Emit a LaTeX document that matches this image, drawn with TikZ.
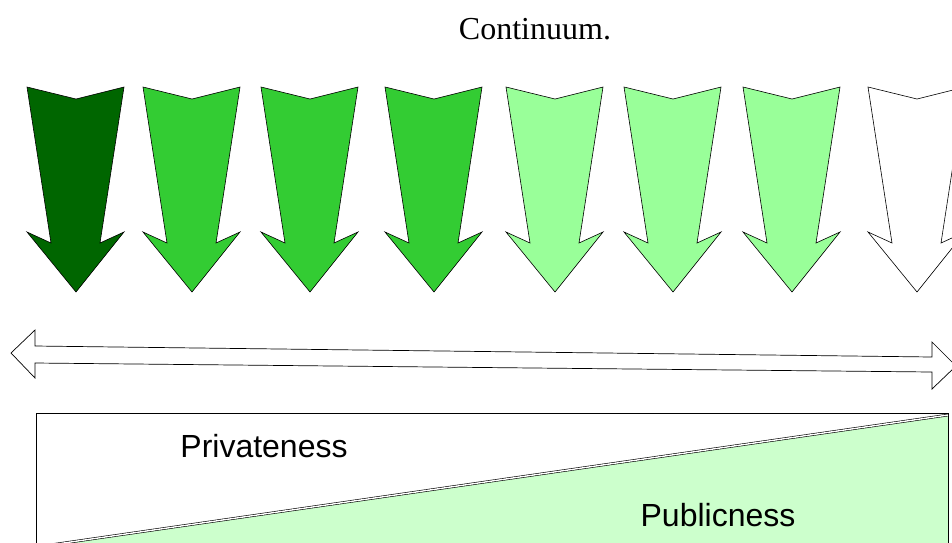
\documentclass[tikz,border=0pt]{standalone}
\usepackage{fontspec}
\setmainfont{Liberation Serif}
\newfontfamily\arialfont{Liberation Sans}
\definecolor{dkgreen}{HTML}{006600}
\definecolor{midgreen}{HTML}{33CC33}
\definecolor{ltgreen}{HTML}{99FF99}
\definecolor{palegreen}{HTML}{CCFFCC}
\tikzset{
  downarrow/.style={draw=black, line width=0.6pt, line join=miter},
  dblarrow/.style={draw=black, line width=0.7pt, fill=white},
  label/.style={font=\arialfont\fontsize{32}{36}\selectfont, inner sep=0pt},
}
\newcommand{\greenarrow}[2]{%
  \path[downarrow, fill=#2] (#1-49,87) -- (#1,99) -- (#1+48,87) -- (#1+24,243) -- (#1+48,232)
    -- (#1,292) -- (#1-49,232) -- (#1-25,243) -- cycle;}
\begin{document}
\begin{tikzpicture}[x=1pt,y=-1pt]
\useasboundingbox (0,0) rectangle (952,542);
\clip (0,0) rectangle (952,542);
\node[font=\fontsize{32}{36}\selectfont, inner sep=0pt] (title) at (535,29) {Continuum.};
\greenarrow{76}{dkgreen}
\greenarrow{192}{midgreen}
\greenarrow{310}{midgreen}
\greenarrow{434}{midgreen}
\greenarrow{555}{ltgreen}
\greenarrow{673}{ltgreen}
\greenarrow{792}{ltgreen}
\greenarrow{917}{white}
\path[dblarrow] (11,353) -- (35,330) -- (35,346) -- (932,357) -- (932,342) -- (956,366)
  -- (932,389) -- (932,372) -- (35,363) -- (35,378) -- cycle;
\fill[palegreen] (36,547) -- (948,415) -- (948,560) -- (36,560) -- cycle;
\draw[line width=0.7pt] (36,560) -- (36,413) -- (948,413) -- (948,560);
\draw[line width=0.6pt, double=white, double distance=1.4pt] (36,547) -- (948,415);
\node[label] (priv) at (264,446) {Privateness};
\node[label] (publ) at (718,515) {Publicness};
\end{tikzpicture}
\end{document}
